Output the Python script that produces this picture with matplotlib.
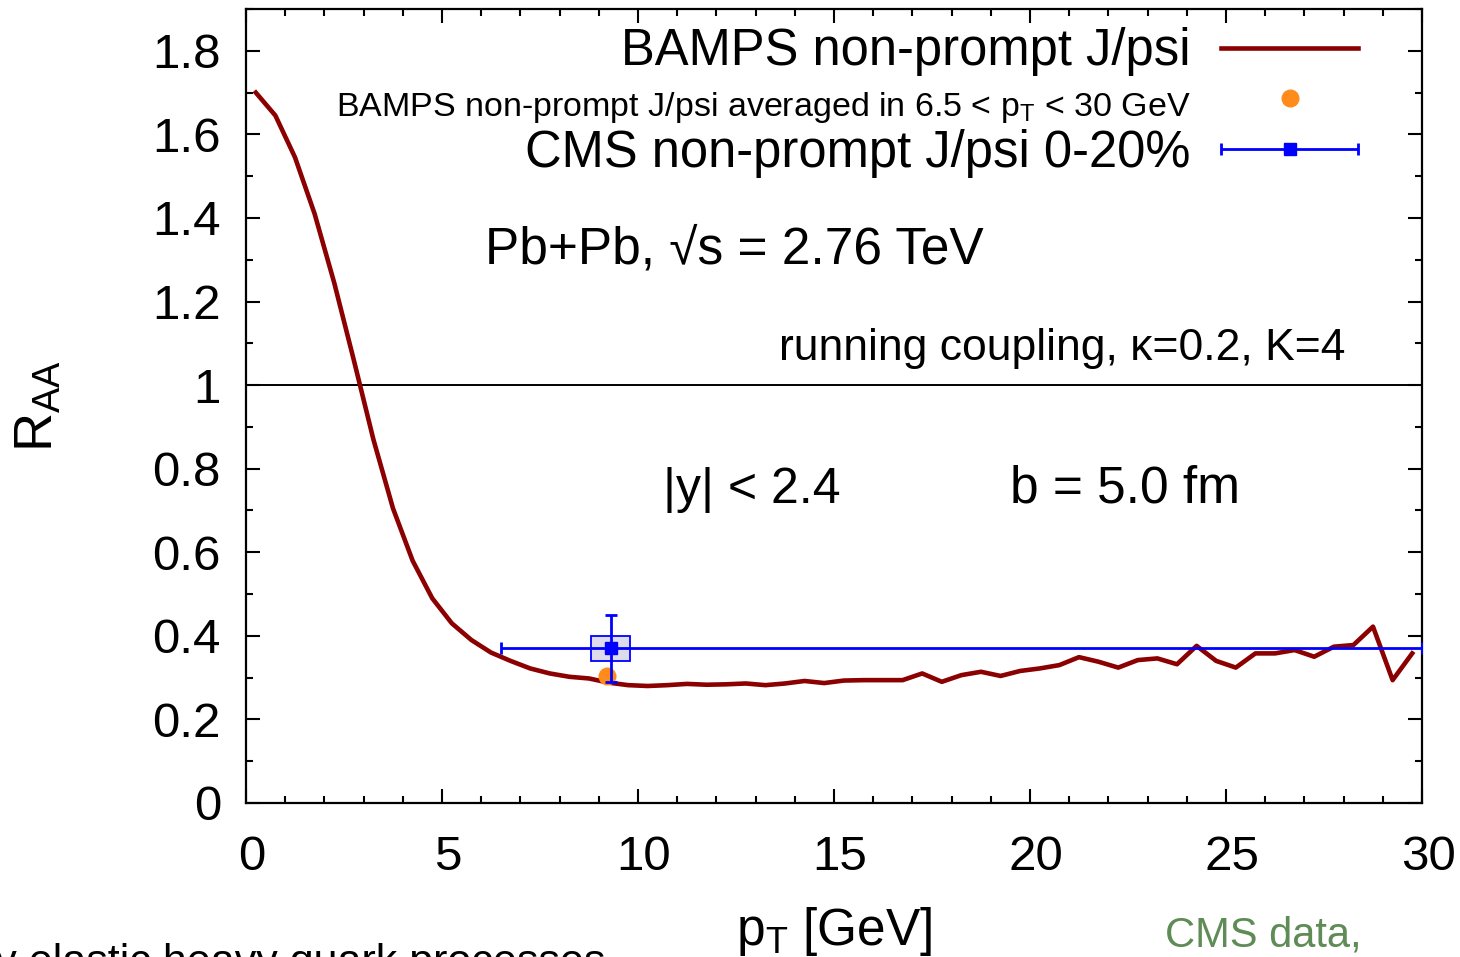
import numpy as np
import matplotlib
matplotlib.use('Agg')
from matplotlib import pyplot as plt
from matplotlib.ticker import MultipleLocator, FormatStrFormatter
from matplotlib.legend_handler import HandlerErrorbar
from matplotlib.container import ErrorbarContainer
import matplotlib.transforms as mtransforms

plt.rcParams['font.family'] = ['Liberation Sans', 'DejaVu Sans']
plt.rcParams['mathtext.fontset'] = 'custom'
plt.rcParams['mathtext.rm'] = 'Liberation Sans'
plt.rcParams['mathtext.it'] = 'Liberation Sans:italic'

# BAMPS curve (pT bin centres, R_AA)
pt = [0.25, 0.75, 1.25, 1.75, 2.25, 2.75, 3.25, 3.75, 4.25, 4.75,
      5.25, 5.75, 6.25, 6.75, 7.25, 7.75, 8.25, 8.75, 9.25, 9.75,
      10.25, 10.75, 11.25, 11.75, 12.25, 12.75, 13.25, 13.75, 14.25, 14.75,
      15.25, 15.75, 16.25, 16.75, 17.25, 17.75, 18.25, 18.75, 19.25, 19.75,
      20.25, 20.75, 21.25, 21.75, 22.25, 22.75, 23.25, 23.75, 24.25, 24.75,
      25.25, 25.75, 26.25, 26.75, 27.25, 27.75, 28.25, 28.75, 29.25, 29.75]
raa = [1.70, 1.645, 1.545, 1.41, 1.245, 1.06, 0.87, 0.705, 0.58, 0.49,
       0.43, 0.39, 0.36, 0.34, 0.322, 0.31, 0.302, 0.298, 0.288, 0.282,
       0.280, 0.282, 0.285, 0.283, 0.284, 0.286, 0.282, 0.286, 0.292, 0.287,
       0.293, 0.294, 0.294, 0.294, 0.310, 0.290, 0.306, 0.314, 0.304, 0.316,
       0.322, 0.330, 0.349, 0.338, 0.324, 0.342, 0.346, 0.332, 0.376, 0.340,
       0.324, 0.358, 0.358, 0.366, 0.350, 0.374, 0.378, 0.422, 0.294, 0.358]

# BAMPS averaged point
avg_pt = [9.2]
avg_raa = [0.305]

# CMS non-prompt J/psi 0-20%
cms_pt = [9.3]
cms_raa = [0.37]
cms_xlo = [6.5]
cms_xhi = [30.0]
cms_stat = [0.08]
cms_sys = [0.03]
cms_boxw = [1.0]

fig = plt.figure(figsize=(14.6, 9.57), dpi=100)
ax = fig.add_axes([246/1460, 1-803/957, 1176/1460, 794/957])

ax.axhline(1.0, color='black', lw=1.4, zorder=1)
ax.plot(pt, raa, color='#8b0000', lw=3.3, zorder=3, label='BAMPS non-prompt J/psi')
ax.plot(avg_pt, avg_raa, 'o', color='#ff8c1a', ms=13, mec='none', zorder=4,
        label='BAMPS non-prompt J/psi averaged in 6.5 < p$_\\mathrm{T}$ < 30 GeV')

xerr = [np.array(cms_pt) - np.array(cms_xlo), np.array(cms_xhi) - np.array(cms_pt)]
ax.bar(cms_pt, 2*np.array(cms_sys), width=cms_boxw, bottom=np.array(cms_raa)-np.array(cms_sys),
       color='#dcdcec', edgecolor='blue', lw=1.3, zorder=5)
ax.errorbar(cms_pt, cms_raa, xerr=xerr, fmt='s', color='blue', ms=8, lw=2, capsize=4.5,
            capthick=2, zorder=6, label='CMS non-prompt J/psi 0-20%')
ax.errorbar(cms_pt, cms_raa, yerr=cms_stat, fmt='none', ecolor='blue', lw=2, capsize=4.5,
            capthick=2, zorder=6)

ax.set_xlim(0, 30)
ax.set_ylim(0, 1.9)
ax.xaxis.set_major_locator(MultipleLocator(5))
ax.xaxis.set_minor_locator(MultipleLocator(1))
ax.yaxis.set_major_locator(MultipleLocator(0.2))
ax.yaxis.set_minor_locator(MultipleLocator(0.1))
ax.yaxis.set_major_formatter(FormatStrFormatter('%g'))
ax.tick_params(which='both', direction='in', top=True, right=True, width=1.5, labelsize=35.5)
ax.tick_params(which='major', length=10)
ax.tick_params(which='minor', length=5)
ax.tick_params(axis='x', pad=23)
ax.tick_params(axis='y', pad=18)
for s in ax.spines.values():
    s.set_linewidth(1.6)

# gnuplot puts the x tick labels a little right of the ticks
shift = mtransforms.ScaledTranslation(0.06, 0, fig.dpi_scale_trans)
for lab in ax.get_xticklabels():
    lab.set_transform(lab.get_transform() + shift)

ax.set_xlabel('p$_\\mathrm{T}$ [GeV]', fontsize=37, labelpad=18)
ax.set_ylabel('R$_\\mathrm{AA}$', fontsize=39, labelpad=64)

leg = ax.legend(loc='upper right', bbox_to_anchor=(0.946, 0.977), frameon=False,
                markerfirst=False, fontsize=36.5, handlelength=2.72, handletextpad=0.59,
                labelspacing=0.08, borderpad=0, borderaxespad=0,
                handler_map={ErrorbarContainer: HandlerErrorbar(xerr_size=1.36)})
leg.get_texts()[1].set_fontsize(24.5)

ax.text(6.1, 1.292, 'Pb+Pb, √s = 2.76 TeV', fontsize=37)
ax.text(28.04, 1.06, 'running coupling, κ=0.2, K=4', fontsize=32, ha='right')
ax.text(10.64, 0.718, '|y| < 2.4', fontsize=36)
ax.text(19.5, 0.718, 'b = 5.0 fm', fontsize=37)

fig.text(605/1460, 1-943/957, 'only elastic heavy quark processes', fontsize=31,
         ha='right', va='top')
fig.text(1165/1460, 1-947/957, 'CMS data,', fontsize=30, color='#5e8b56', va='baseline')

fig.savefig('out.png', dpi=100)
